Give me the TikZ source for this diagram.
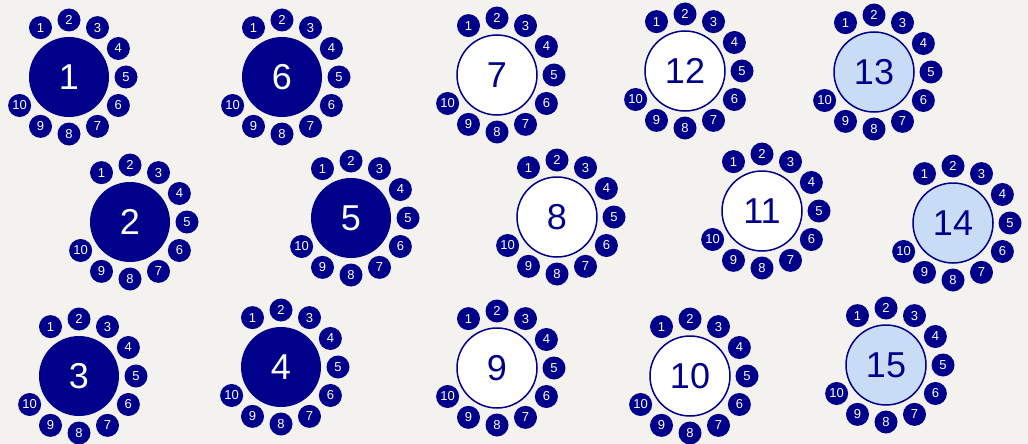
\documentclass[tikz,border=0pt]{standalone}
\usepackage{fontspec}
\setmainfont{Liberation Sans}
\usetikzlibrary{backgrounds}
\definecolor{tbNavy}{RGB}{0,0,139}
\definecolor{tbLight}{HTML}{C9DCF6}
\definecolor{tbPaper}{HTML}{F4F2EF}
\tikzset{
  tbnode/.style={
    circle, minimum size=80pt, inner sep=0pt,
    font=\fontsize{36}{40}\selectfont
  },
  tabledark/.style={tbnode, fill=tbNavy, text=white},
  tablewhite/.style={tbnode, fill=white, draw=tbNavy, line width=1.5pt, text=tbNavy},
  tablelight/.style={tbnode, fill=tbLight, draw=tbNavy, line width=1.5pt, text=tbNavy},
  seat/.style={
    circle, fill=tbNavy, minimum size=23pt, inner sep=0pt,
    text=white, font=\fontsize{13}{14}\selectfont
  }
}
% #1 name, #2 position, #3 table number, #4 style
\newcommand{\roundtable}[4]{%
  \node[#4] (#1) at #2 {#3};
  \foreach \s in {1,...,10}
    \node[seat] (#1-s\s) at ([shift={({150-30*\s}:57pt)}]#1.center) {\s};
}

\begin{document}
\begin{tikzpicture}[x=1pt, y=-1pt]
  \fill[tbPaper] (0,0) rectangle (1028,444);
  \useasboundingbox (0,0) rectangle (1028,444);

  % first row
  \roundtable{t1}{(69,77)}{1}{tabledark}
  \roundtable{t6}{(282,77)}{6}{tabledark}
  \roundtable{t7}{(497,75)}{7}{tablewhite}
  \roundtable{t12}{(685,71)}{12}{tablewhite}
  \roundtable{t13}{(874,72)}{13}{tablelight}

  % second row
  \roundtable{t2}{(130,222)}{2}{tabledark}
  \roundtable{t5}{(351,218)}{5}{tabledark}
  \roundtable{t8}{(557,217)}{8}{tablewhite}
  \roundtable{t11}{(762,211)}{11}{tablewhite}
  \roundtable{t14}{(953,223)}{14}{tablelight}

  % third row
  \roundtable{t3}{(79,376)}{3}{tabledark}
  \roundtable{t4}{(281,367)}{4}{tabledark}
  \roundtable{t9}{(497,368)}{9}{tablewhite}
  \roundtable{t10}{(690,376)}{10}{tablewhite}
  \roundtable{t15}{(886,365)}{15}{tablelight}
\end{tikzpicture}
\end{document}
